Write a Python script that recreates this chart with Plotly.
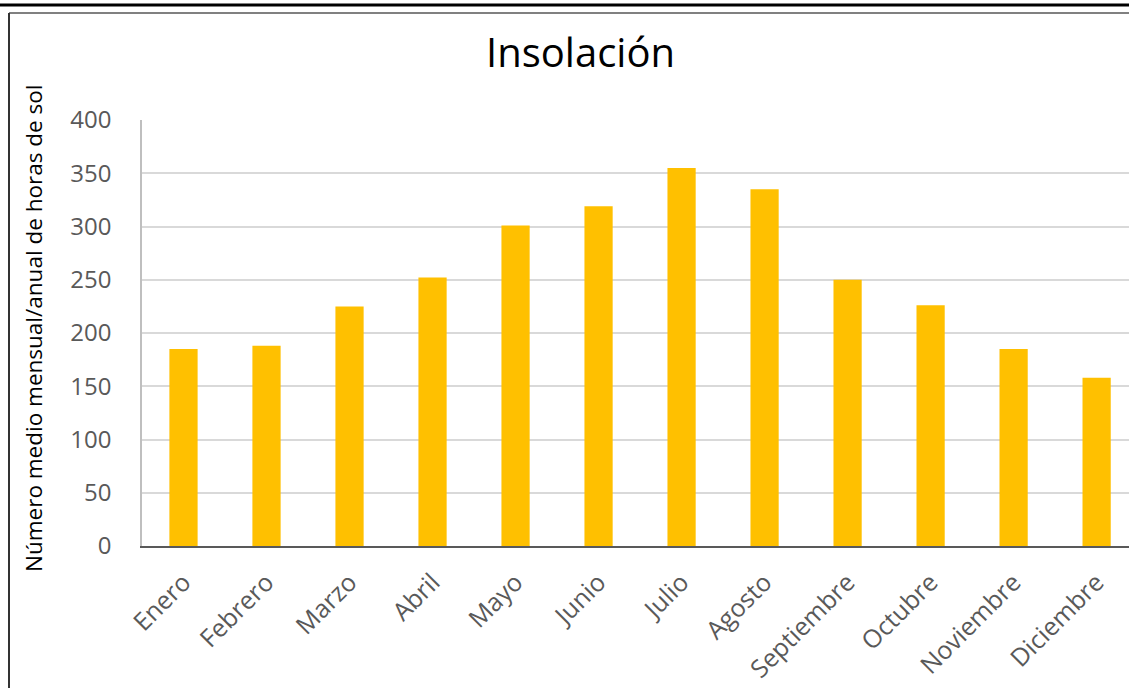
import plotly.graph_objects as go

months = ["Enero", "Febrero", "Marzo", "Abril", "Mayo", "Junio", "Julio",
          "Agosto", "Septiembre", "Octubre", "Noviembre", "Diciembre"]
hours = [185, 188, 225, 252, 301, 319, 355, 335, 250, 226, 185, 158]
y_ticks = [0, 50, 100, 150, 200, 250, 300, 350, 400]

W, H = 1129, 688
L, R, T, B = 142, 0, 120, 142
PW, PH = W - L - R, H - T - B

def px(x):
    return (x - L) / PW

def py(y):
    return (H - B - y) / PH

fig = go.Figure(go.Bar(
    x=months, y=hours, marker_color="#FFC000", width=0.34,
    marker_line_width=0,
))

fig.update_layout(
    width=W, height=H,
    margin=dict(l=L, r=R, t=T, b=B, autoexpand=False),
    plot_bgcolor="white", paper_bgcolor="white",
    showlegend=False,
    font=dict(family="Open Sans, Liberation Sans, sans-serif"),
)
fig.update_xaxes(
    range=[-0.5, 11.39], tickangle=-45,
    tickfont=dict(size=25, color="#595959"),
    showline=True, linecolor="#595959", linewidth=1.5,
    showgrid=False, ticks="", ticklabelstandoff=10,
)
fig.update_yaxes(
    range=[0, 400], tickvals=y_ticks,
    tickfont=dict(size=24, color="#595959"),
    showgrid=True, gridcolor="#D9D9D9", gridwidth=1.5,
    showline=True, linecolor="#BFBFBF", linewidth=1.5,
    zeroline=False, ticks="", ticklabelstandoff=24,
)

fig.add_annotation(text="Insolación", xref="paper", yref="paper",
                   x=px(580), y=py(52), xanchor="center", yanchor="middle",
                   showarrow=False, font=dict(size=40, color="black"))
fig.add_annotation(text="Número medio mensual/anual de horas de sol",
                   xref="paper", yref="paper", x=px(33), y=py(329),
                   xanchor="center", yanchor="middle", textangle=-90,
                   showarrow=False, font=dict(size=22.5, color="black"))

# outer frame lines
fig.add_shape(type="line", xref="paper", yref="paper",
              x0=px(0), x1=px(W), y0=py(5), y1=py(5),
              line=dict(color="black", width=3))
fig.add_shape(type="line", xref="paper", yref="paper",
              x0=px(9), x1=px(W), y0=py(13), y1=py(13),
              line=dict(color="#808080", width=2))
fig.add_shape(type="line", xref="paper", yref="paper",
              x0=px(9), x1=px(9), y0=py(13), y1=py(H),
              line=dict(color="#333333", width=2))

fig.write_html("out.html", config={"displayModeBar": False},
               post_script="document.body.style.margin='0';document.body.style.overflow='hidden';")
